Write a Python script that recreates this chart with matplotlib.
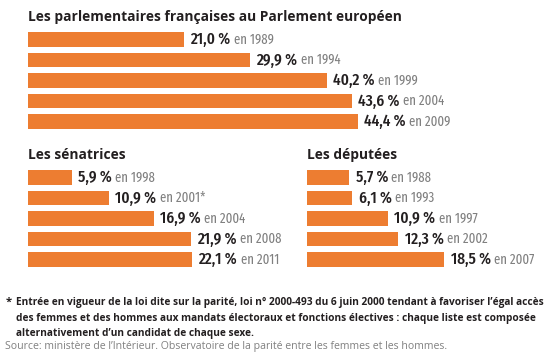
import matplotlib
matplotlib.use("Agg")
import matplotlib.pyplot as plt

# données
euro_years = ["1989", "1994", "1999", "2004", "2009"]
euro_vals = [21.0, 29.9, 40.2, 43.6, 44.4]

senat_years = ["1998", "2001*", "2004", "2008", "2011"]
senat_vals = [5.9, 10.9, 16.9, 21.9, 22.1]

depute_years = ["1988", "1993", "1997", "2002", "2007"]
depute_vals = [5.7, 6.1, 10.9, 12.3, 18.5]

ORANGE = "#ED7D31"
DARK = "#231F20"
GREY = "#808080"
W, H = 557, 361
PX_PER_PCT = 7.43
COND = "Fira Sans Extra Condensed"
TITLE_FONT = "Open Sans"

fig = plt.figure(figsize=(W / 100, H / 100), dpi=100)
fig.patch.set_facecolor("white")


def panel(left, top, vals, years, xmax, title):
    # position en pixels -> coordonnées figure
    width = xmax * PX_PER_PCT
    height = 5 * 20.5
    ax = fig.add_axes([left / W, 1 - (top + height) / H, width / W, height / H])
    ax.set_facecolor("none")
    y = list(range(len(vals)))
    ax.barh(y, vals, height=0.73, color=ORANGE)
    ax.set_xlim(0, xmax)
    ax.set_ylim(len(vals) - 0.5, -0.5)
    ax.axis("off")
    for i, (v, yr) in enumerate(zip(vals, years)):
        lab = f"{v:.1f} %".replace(".", ",")
        t = ax.annotate(lab, xy=(v, i), xytext=(4.5, 0), textcoords="offset points",
                        ha="left", va="center", fontsize=12, family=COND,
                        color=DARK, fontweight="medium", annotation_clip=False)
        ax.annotate("en " + yr, xy=(1, 0.06), xycoords=t, xytext=(2.5, 0),
                    textcoords="offset points", ha="left", va="bottom",
                    fontsize=10, family=COND, color=GREY, fontweight="normal",
                    annotation_clip=False)
    fig.text(left / W, 1 - (top - 12.5) / H, title, ha="left", va="center",
             fontsize=9.9, fontweight="bold", family=TITLE_FONT, color=DARK)
    return ax


panel(28, 29.25, euro_vals, euro_years, 50,
      "Les parlementaires françaises au Parlement européen")
panel(28, 167.25, senat_vals, senat_years, 30, "Les sénatrices")
panel(307, 167.25, depute_vals, depute_years, 30, "Les députées")

note = ("Entrée en vigueur de la loi dite sur la parité, loi n° 2000-493 du 6 juin 2000 tendant à favoriser l’égal accès\n"
        "des femmes et des hommes aux mandats électoraux et fonctions électives : chaque liste est composée\n"
        "alternativement d’un candidat de chaque sexe.")
fig.text(6 / W, 1 - 297 / H, "*", ha="left", va="top", fontsize=8,
         fontweight="bold", family=TITLE_FONT, color=DARK)
fig.text(16 / W, 1 - 296.5 / H, note, ha="left", va="top", fontsize=7.3,
         fontweight="bold", family=TITLE_FONT, color=DARK, linespacing=1.62)
fig.text(5 / W, 1 - 347 / H,
         "Source: ministère de l’Intérieur. Observatoire de la parité entre les femmes et les hommes.",
         ha="left", va="center", fontsize=7.6, family=TITLE_FONT, color=GREY)

fig.savefig("out.png", dpi=100)
